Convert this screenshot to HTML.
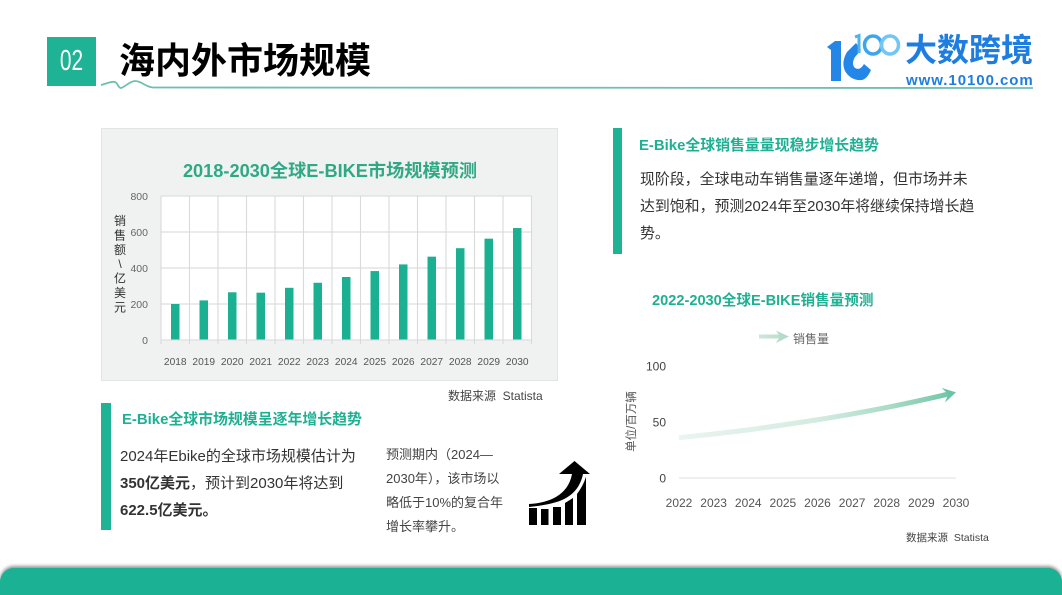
<!DOCTYPE html>
<html lang="zh-CN">
<head>
<meta charset="utf-8">
<title>海内外市场规模</title>
<style>
html,body{margin:0;padding:0;background:#fff;}
#page{position:relative;width:1062px;height:595px;overflow:hidden;background:#fff;font-family:"Liberation Sans","Noto Sans CJK SC",sans-serif;color:#333;}
#page div{position:absolute;white-space:nowrap;}
svg{position:absolute;left:0;top:0;}
svg text{font-family:"Liberation Sans","Noto Sans CJK SC",sans-serif;}
.head{font-size:14.9px;font-weight:700;color:#1fb093;line-height:20px;}
.body{font-size:14.9px;line-height:27px;color:#333;}
.small{font-size:13px;line-height:24px;color:#444;}
</style>
</head>
<body>
<div id="page">
  <div style="left:47px;top:37px;width:49px;height:49px;background:#1eb394;"></div>
  <div style="left:47px;top:37px;width:49px;height:49px;line-height:49px;text-align:center;color:#fff;font-size:29px;transform:scaleX(.72);">02</div>
  <div style="left:119px;top:37px;font-size:36px;line-height:48px;font-weight:700;color:#000;">海内外市场规模</div>

  <svg width="1062" height="595">
    <path d="M101 85 C108 83 112 81 115 82 C118 83 118 88 121 88 C125 87 130 81 135 81 C142 81 145 87 153 87.500 L1033 88" fill="none" stroke="#6fbfb0" stroke-width="1.8"/>
    <g>
      <path d="M827 47 L835 41 L841 41 L841 81 L831 81 L831 50 Z" fill="#2487e8"/>
      <path d="M856 43 L847 52 Q841 62 845 71 Q851 81 862 80 Q867 79 871 70 L864 64 Q860 71 855 68 Q851 64 855 57 L861 50 Z" fill="#2487e8"/>
      <path d="M855 37 L859 35.500 L859 53" fill="none" stroke="#4db2f0" stroke-width="3"/>
      <ellipse cx="873" cy="45" rx="8.500" ry="9" fill="none" stroke="#3da5ee" stroke-width="3.500"/>
      <ellipse cx="890" cy="45" rx="8.500" ry="9" fill="none" stroke="#72c6f4" stroke-width="3.500"/>
    </g>
    <g fill="#000">
      <rect x="529" y="508" width="8" height="17"/>
      <rect x="541" y="509" width="7.500" height="16"/>
      <rect x="553" y="507" width="8" height="18"/>
      <path d="M565 503 L573 498 L573 525 L565 525 Z"/>
      <path d="M577 494 Q583 486 586 477 L586 525 L577 525 Z"/>
      <path d="M529 504 C548 503 568 496 572 474 L559 474 L574.500 461 L590 474 L583 474 C580 489 570 499 553 503 C545 505 538 506 529 507 Z"/>
    </g>
  </svg>

  <div style="left:905px;top:29px;font-size:32px;line-height:42px;font-weight:700;color:#1e7de0;">大数跨境</div>
  <div style="left:906px;top:71px;font-size:15px;line-height:20px;font-weight:700;color:#1e7de0;letter-spacing:.95px;">www.10100.com</div>

  <div style="left:101px;top:128px;width:455px;height:251px;background:#f0f1f1;border:1px solid #e3e5e5;"></div>
  <svg id="bar-chart" width="1062" height="595"></svg>
  <div style="left:448px;top:388px;font-size:12px;line-height:17px;color:#444;">数据来源&nbsp; Statista</div>

  <div style="left:101px;top:403px;width:10px;height:127px;background:#1eb394;"></div>
  <div class="head" style="left:122px;top:410px;">E-Bike全球市场规模呈逐年增长趋势</div>
  <div class="body" style="left:120px;top:443px;font-size:15px;">2024年Ebike的全球市场规模估计为<br><b>350亿美元</b>，预计到2030年将达到<br><b>622.5亿美元。</b></div>
  <div class="small" style="left:386px;top:443px;">预测期内（2024—<br>2030年），该市场以<br>略低于10%的复合年<br>增长率攀升。</div>

  <div style="left:613px;top:128px;width:9px;height:126px;background:#1eb394;"></div>
  <div class="head" style="left:639px;top:136px;">E-Bike全球销售量量现稳步增长趋势</div>
  <div class="body" style="left:640px;top:167px;">现阶段，全球电动车销售量逐年递增，但市场并未<br>达到饱和，预测2024年至2030年将继续保持增长趋<br>势。</div>

  <svg id="line-chart" width="1062" height="595">
    <defs>
      <linearGradient id="line-grad" gradientUnits="userSpaceOnUse" x1="679" y1="0" x2="956" y2="0">
        <stop offset="0" stop-color="#eaf5f0"/>
        <stop offset="0.5" stop-color="#d4ebe1"/>
        <stop offset="0.75" stop-color="#abdcc8"/>
        <stop offset="1" stop-color="#6cc4a4"/>
      </linearGradient>
      <linearGradient id="legend-grad" gradientUnits="userSpaceOnUse" x1="759" y1="0" x2="789" y2="0">
        <stop offset="0" stop-color="#cfe6da"/>
        <stop offset="1" stop-color="#b5dcc8"/>
      </linearGradient>
    </defs>
  </svg>
  <div style="left:906px;top:530px;font-size:10.5px;line-height:16px;color:#444;">数据来源&nbsp; Statista</div>

  <div style="left:0;top:568px;width:1062px;height:40px;background:#1ab194;border-radius:14px 14px 0 0;box-shadow:0 -2px 3px rgba(60,60,60,.55);"></div>
</div>

<script>
const barCategories = ['2018','2019','2020','2021','2022','2023','2024','2025','2026','2027','2028','2029','2030'];
const barValues = [200,220,265,263,290,318,350,383,420,463,510,563,622];
const barTicks = [0,200,400,600,800];
const barChartTitle = '2018-2030全球E-BIKE市场规模预测';
const barAxisTitle = ['销','售','额','\\','亿','美','元'];

const lineCategories = ['2022','2023','2024','2025','2026','2027','2028','2029','2030'];
const lineValues = [36,39.3,43,47.3,52,57.2,63,69.5,76.5];
const lineTicks = [0,50,100];
const lineChartTitle = '2022-2030全球E-BIKE销售量预测';
const lineLegendLabel = '销售量';
const lineAxisTitle = '单位/百万辆';

const NS = 'http://www.w3.org/2000/svg';
function make(parent, tag, attrs, text) {
  const el = document.createElementNS(NS, tag);
  for (const k in attrs) el.setAttribute(k, attrs[k]);
  if (text !== undefined) el.textContent = text;
  parent.appendChild(el);
  return el;
}

/* ---------- bar chart ---------- */
const bsvg = document.getElementById('bar-chart');
const bLeft = 161, bRight = 531.5, bTop = 196, bBottom = 340, bMax = 800;
const bBand = (bRight - bLeft) / barCategories.length;
const bx = i => bLeft + bBand * i;
const by = v => bBottom - (v / bMax) * (bBottom - bTop);

const bTitle = make(bsvg, 'text', {x: 330, y: 177, 'text-anchor': 'middle', 'font-size': 18.2, 'font-weight': 700, fill: '#2fa985'}, barChartTitle);



const bPlot = make(bsvg, 'rect', {x: bLeft, y: bTop, width: bRight - bLeft, height: bBottom - bTop, fill: '#fff'});



barTicks.forEach(t => {
  const g = make(bsvg, 'line', {x1: bLeft, x2: bRight, y1: by(t), y2: by(t), stroke: '#e2e3e3', 'stroke-width': 1.5});
  
  
  const l = make(bsvg, 'text', {x: 148, y: by(t) + 4, 'text-anchor': 'end', 'font-size': 10.5, fill: '#666'}, t);
  
  
});
for (let i = 0; i <= barCategories.length; i++) {
  const g = make(bsvg, 'line', {x1: bx(i), x2: bx(i), y1: bTop, y2: bBottom + 4, stroke: '#d9dada', 'stroke-width': 1.1});
  
  
}
barCategories.forEach((c, i) => {
  const w = 8.5;
  const cx = bx(i) + bBand / 2;
  const b = make(bsvg, 'rect', {x: cx - w / 2, y: by(barValues[i]), width: w, height: by(0) - by(barValues[i]) - 0.5, fill: '#1cb092'});
  
  
  const l = make(bsvg, 'text', {x: cx, y: 365, 'text-anchor': 'middle', 'font-size': 10.2, fill: '#555'}, c);
  
  
});
barAxisTitle.forEach((ch, i) => {
  const l = make(bsvg, 'text', {x: 120, y: 225 + i * 14.4, 'text-anchor': 'middle', 'font-size': 12, fill: '#333'}, ch);
  
  
});

/* ---------- line chart ---------- */
const lsvg = document.getElementById('line-chart');
const lLeft = 679, lRight = 956, lTop = 366, lBottom = 478, lMax = 100;
const lx = i => lLeft + (lRight - lLeft) * i / (lineCategories.length - 1);
const ly = v => lBottom - (v / lMax) * (lBottom - lTop);

const lTitle = make(lsvg, 'text', {x: 652, y: 305, 'font-size': 14.6, 'font-weight': 700, fill: '#1fb093'}, lineChartTitle);



const legLine = make(lsvg, 'path', {d: 'M759 336.500 L782 336.500', stroke: 'url(#legend-grad)', 'stroke-width': 4, fill: 'none'});


const legHead = make(lsvg, 'path', {d: 'M776 330.500 L789 336.500 L776 343 L780 336.500 Z', fill: '#b5dcc8'});


const legText = make(lsvg, 'text', {x: 793, y: 343, 'font-size': 12, fill: '#666'}, lineLegendLabel);



lineTicks.forEach(t => {
  const l = make(lsvg, 'text', {x: 666, y: ly(t) + 4.5, 'text-anchor': 'end', 'font-size': 12, fill: '#444'}, t);
  
  
});
const lBase = make(lsvg, 'line', {x1: lLeft, x2: lRight, y1: lBottom, y2: lBottom, stroke: '#e8ebea', 'stroke-width': 1.4});


lineCategories.forEach((c, i) => {
  const l = make(lsvg, 'text', {x: lx(i), y: 507, 'text-anchor': 'middle', 'font-size': 12, fill: '#555'}, c);
  
  
});

const lAxis = make(lsvg, 'text', {transform: 'translate(635,421.500) rotate(-90)', 'text-anchor': 'middle', 'font-size': 11.5, fill: '#555'}, lineAxisTitle);



const pts = lineValues.map((v, i) => [lx(i), ly(v)]);
const last = pts[pts.length - 1];
const prev = pts[pts.length - 2];
const ang = Math.atan2(last[1] - prev[1], last[0] - prev[0]);
const ux = Math.cos(ang), uy = Math.sin(ang);
const stemEnd = [last[0] - ux * 7, last[1] - uy * 7];
const linePts = pts.slice(0, -1).concat([stemEnd]);
let d = 'M' + linePts[0][0] + ' ' + linePts[0][1];
for (let i = 0; i < linePts.length - 1; i++) {
  const p0 = linePts[Math.max(i - 1, 0)], p1 = linePts[i], p2 = linePts[i + 1], p3 = linePts[Math.min(i + 2, linePts.length - 1)];
  d += ' C' + (p1[0] + (p2[0] - p0[0]) / 6) + ' ' + (p1[1] + (p2[1] - p0[1]) / 6) + ' ' +
       (p2[0] - (p3[0] - p1[0]) / 6) + ' ' + (p2[1] - (p3[1] - p1[1]) / 6) + ' ' + p2[0] + ' ' + p2[1];
}
const sLine = make(lsvg, 'path', {d: d, fill: 'none', stroke: 'url(#line-grad)', 'stroke-width': 5});


const hx = last[0] - ux * 13, hy = last[1] - uy * 13;
const nx = last[0] - ux * 8, ny = last[1] - uy * 8;
const head = make(lsvg, 'path', {
  d: 'M' + last[0] + ' ' + last[1] +
     ' L' + (hx + uy * 7.5) + ' ' + (hy - ux * 7.5) +
     ' L' + nx + ' ' + ny +
     ' L' + (hx - uy * 7.5) + ' ' + (hy + ux * 7.5) + ' Z',
  fill: '#6cc4a4'
});


</script>
</body>
</html>
